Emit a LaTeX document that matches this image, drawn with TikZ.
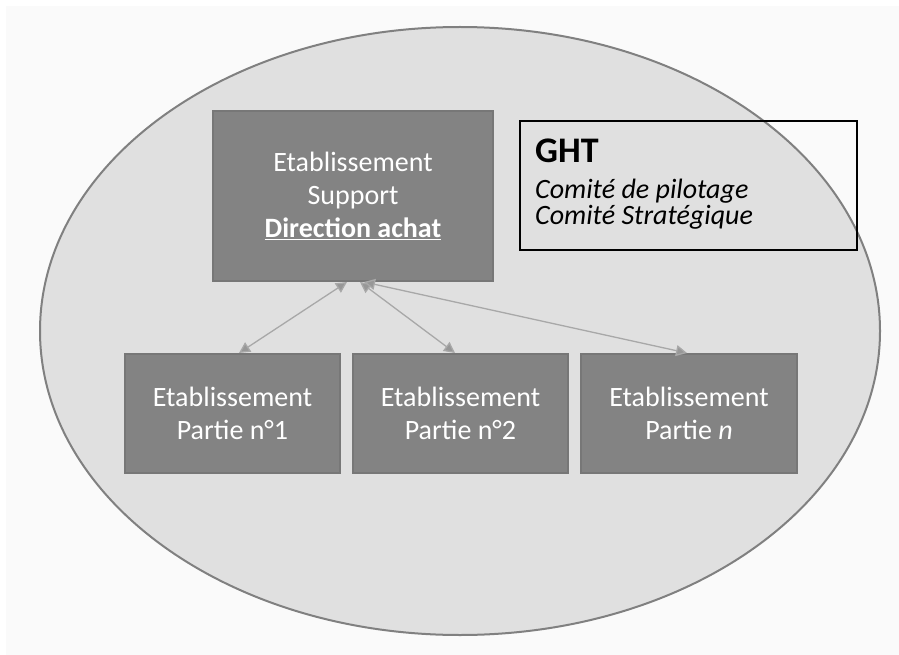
\documentclass[tikz,border=0pt]{standalone}
\usepackage{fontspec}
\setmainfont{Carlito}
\usetikzlibrary{arrows.meta,shapes.geometric}
\definecolor{bgc}{HTML}{FAFAFA}
\definecolor{ellfill}{HTML}{E0E0E0}
\definecolor{elldraw}{HTML}{808080}
\definecolor{boxfill}{HTML}{838383}
\definecolor{boxdraw}{HTML}{777777}
\definecolor{arrc}{HTML}{A8A8A8}
\tikzset{
  orgbox/.style={rectangle, fill=boxfill, draw=boxdraw, line width=1.5pt, text=white, align=center,
    font=\fontsize{28}{33}\selectfont, inner sep=0pt},
  linkarr/.style={draw=arrc, line width=1.3pt, {Triangle[length=11pt,width=11pt,fill=arrc!90!black]}-{Triangle[length=11pt,width=11pt,fill=arrc!90!black]}},
  ghtline/.style={anchor=base west, inner sep=0pt, font=\fontsize{28}{30}\selectfont\itshape}
}
\begin{document}
\begin{tikzpicture}[x=1pt,y=-1pt]
\useasboundingbox (0,0) rectangle (899,655);
\fill[bgc] (6,6) rectangle (899,655);
\node[ellipse, fill=ellfill, draw=elldraw, line width=2pt, minimum width=840pt, minimum height=608pt, inner sep=0pt] (ell) at (460,331) {};
% top box
\node[orgbox, minimum width=280pt, minimum height=170pt] (sup) at (353,196)
  {Etablissement\\Support\\\underline{\textbf{Direction achat}}};
% bottom boxes
\node[orgbox, minimum width=215pt, minimum height=119pt] (p1) at (232.5,413.5) {Etablissement\\Partie n°1};
\node[orgbox, minimum width=215pt, minimum height=119pt] (p2) at (460.5,413.5) {Etablissement\\Partie n°2};
\node[orgbox, minimum width=216pt, minimum height=119pt] (p3) at (689,413.5) {Etablissement\\Partie \textit{n}};
% GHT box
\node[rectangle, draw=black, line width=2.5pt, minimum width=337pt, minimum height=129pt, inner sep=0pt] (ght) at (688.5,185.5) {};
\node[anchor=base west, inner sep=0pt, font=\fontsize{36}{36}\selectfont\bfseries] (ghtT) at (535,163) {GHT};
\node[ghtline] (ghtA) at (535,198) {Comité de pilotage};
\node[ghtline] (ghtB) at (535,225) {Comité Stratégique};
% connectors
\coordinate (s1) at (347,282);
\coordinate (s2) at (360,282);
\coordinate (s3) at (364,282);
\coordinate (t1) at (239,353);
\coordinate (t2) at (455,353);
\coordinate (t3) at (687,353);
\draw[linkarr] (s1) -- (t1);
\draw[linkarr] (s2) -- (t2);
\draw[linkarr] (s3) -- (t3);
\end{tikzpicture}
\end{document}
